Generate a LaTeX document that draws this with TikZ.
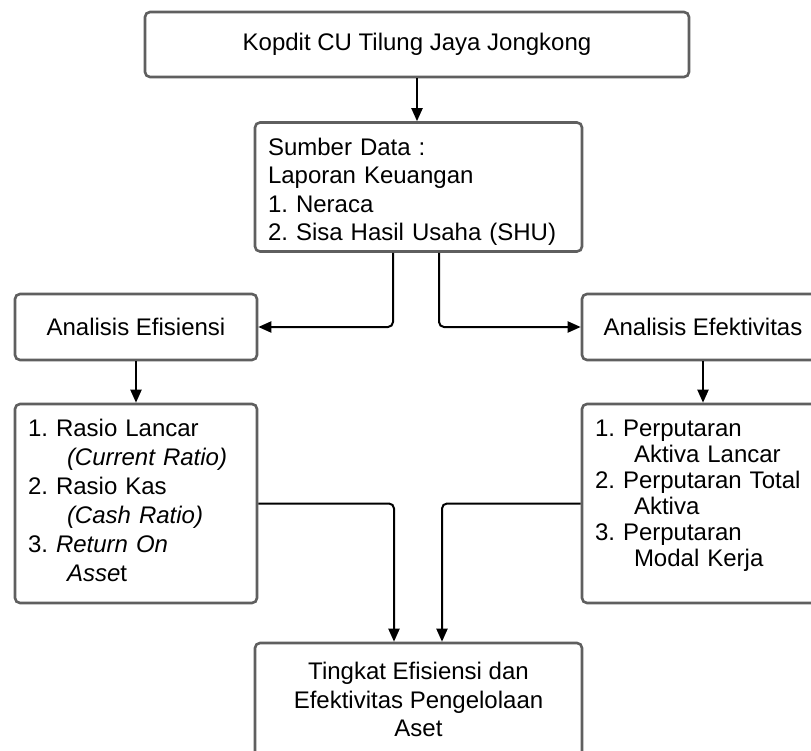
\documentclass[tikz,border=0pt]{standalone}
\usepackage{fontspec}
\setmainfont{Liberation Sans}
\usetikzlibrary{arrows.meta}
\definecolor{boxgray}{HTML}{5F5F5F}
\frenchspacing
\begin{document}
\begin{tikzpicture}[x=1pt,y=-1pt,
  box/.style={draw=boxgray, line width=2.6pt, rounded corners=5pt, inner sep=0pt,
    font=\fontsize{24}{29}\selectfont},
  lbox/.style={box, align=left, inner xsep=13pt},
  arr/.style={draw=black, line width=2pt, -{Triangle[length=13pt,width=11pt]}},
  conn/.style={arr, rounded corners=5pt}
]
\useasboundingbox (0,0) rectangle (811,751);
\fill[white] (0,0) rectangle (811,751);

\node[box, minimum width=544pt, minimum height=65pt] (top) at (417,44.5) {Kopdit CU Tilung Jaya Jongkong};

\node[lbox, text width=301pt, minimum height=129pt, font=\fontsize{24}{28.5}\selectfont] (src) at (418.5,187)
  {\rule{0pt}{27pt}Sumber Data :\\Laporan Keuangan\\1. Neraca\\2. Sisa Hasil Usaha (SHU)};

\node[box, minimum width=242pt, minimum height=66pt] (eff) at (136,327) {Analisis Efisiensi};
\node[box, minimum width=242pt, minimum height=66pt] (efk) at (703,327) {Analisis Efektivitas};

\node[lbox, text width=216pt, minimum height=199pt] (ras) at (136,503.5)
  {1. Rasio Lancar\\
   \hspace*{39pt}\textit{(Current Ratio)}\\
   2. Rasio Kas\\
   \hspace*{39pt}\textit{(Cash Ratio)}\\
   3. \textit{Return On}\\
   \hspace*{39pt}\textit{Asse}t\rule[-7pt]{0pt}{0pt}};

\node[lbox, text width=216pt, minimum height=199pt, font=\fontsize{24}{26}\selectfont] (per) at (703,503.5)
  {1. Perputaran\\
   \hspace*{39pt}Aktiva Lancar\\
   2. Perputaran Total\\
   \hspace*{39pt}Aktiva\\
   3. Perputaran\\
   \hspace*{39pt}Modal Kerja\rule[-21pt]{0pt}{0pt}};

\node[box, align=center, minimum width=327pt, minimum height=113pt, font=\fontsize{24}{28.5}\selectfont] (hasil) at (418.5,699.5)
  {Tingkat Efisiensi dan\\Efektivitas Pengelolaan\\Aset};

\draw[arr] (top.south) -- (top.south |- src.north);
\draw[conn] ([xshift=-25.5pt]src.south) |- (eff.east);
\draw[conn] ([xshift=20.5pt]src.south) |- (efk.west);
\draw[arr] (eff) -- (ras);
\draw[arr] (efk) -- (per);
\draw[conn] (ras.east) -| ([xshift=-24.5pt]hasil.north);
\draw[conn] (per.west) -| ([xshift=23.5pt]hasil.north);
\end{tikzpicture}
\end{document}
